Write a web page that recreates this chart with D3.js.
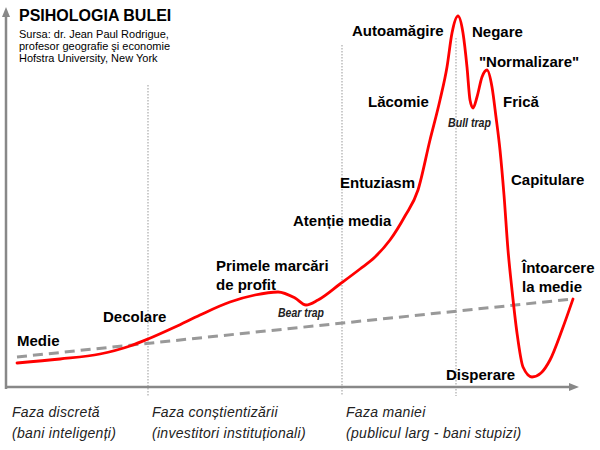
<!DOCTYPE html>
<html>
<head>
<meta charset="utf-8">
<script src="https://cdn.jsdelivr.net/npm/d3@7"></script>
<style>
html,body{margin:0;padding:0;background:#fff;}
svg{display:block;}
</style>
</head>
<body>
<svg id="chart" width="600" height="450"></svg>
<script>
// ---- data (time units, sentiment/price units) ----
const curveTime  = [12, 55, 95, 125, 143, 170, 195, 225, 250, 273, 290, 301, 313, 335, 355, 370, 385, 400, 413, 425, 435, 442, 447, 453, 458, 462, 465, 468, 472, 477, 482, 487, 491, 495, 499, 503, 507, 512, 518, 527, 536, 545, 557, 568];
const curveValue = [24, 28, 33, 41, 48, 60, 72, 85, 92, 95, 89, 82, 87, 103, 118, 130, 147, 171, 197, 247, 287, 320, 354, 371, 354, 320, 287, 279, 290, 310, 317, 300, 270, 237, 192, 137, 97, 54, 20, 10, 14, 27, 57, 88];
const trendTime  = [12, 568];
const trendValue = [30, 88];
const phaseDividers = [143, 337, 451];
const phaseNames = ["Faza discretă", "Faza conștientizării", "Faza maniei"];
const phaseActors = ["(bani inteligenți)", "(investitori instituționali)", "(publicul larg - bani stupizi)"];
const stageLabels = [
  {t:12,  v:41,  lines:["Medie"]},
  {t:98,  v:65,  lines:["Decolare"]},
  {t:211, v:116, lines:["Primele marcări","de profit"]},
  {t:288, v:161, lines:["Atenție media"]},
  {t:335, v:199, lines:["Entuziasm"]},
  {t:363, v:280, lines:["Lăcomie"]},
  {t:347, v:351, lines:["Autoamăgire"]},
  {t:467, v:350, lines:["Negare"]},
  {t:474, v:320, lines:["\"Normalizare\""]},
  {t:498, v:280, lines:["Frică"]},
  {t:506, v:202, lines:["Capitulare"]},
  {t:517, v:114, lines:["Întoarcere","la medie"]},
  {t:441, v:7,   lines:["Disperare"]}
];
const trapLabels = [
  {t:273, v:70,  text:"Bear trap"},
  {t:443, v:260, text:"Bull trap"}
];
const title = "PSIHOLOGIA BULEI";
const subtitle = ["Sursa: dr. Jean Paul Rodrigue,", "profesor geografie şi economie", "Hofstra University, New York"];

// ---- drawing ----
const svg = d3.select("#chart");
const x = d3.scaleLinear().domain([0, 580]).range([5, 585]);
const y = d3.scaleLinear().domain([0, 370]).range([387, 17]);

// arrow marker
const defs = svg.append("defs");
defs.append("marker").attr("id","arr").attr("viewBox","0 0 10 10")
  .attr("refX",5).attr("refY",5).attr("markerWidth",4).attr("markerHeight",4)
  .attr("orient","auto-start-reverse")
  .append("path").attr("d","M0,1 L10,5 L0,9 Z").attr("fill","#888");

// phase dividers (dotted)
const dividerTop = [85, 45, 38];
svg.selectAll("line.div").data(phaseDividers).join("line")
  .attr("class","div")
  .attr("x1", d => x(d)).attr("x2", d => x(d))
  .attr("y1", (d,i) => dividerTop[i]).attr("y2", 396)
  .attr("stroke","#aaa").attr("stroke-width",1.2).attr("stroke-dasharray","1.5,1.5");

// axes
svg.append("line").attr("x1", x(0)+1).attr("x2", x(0)+1).attr("y1", y(-2)).attr("y2", 12)
  .attr("stroke","#888").attr("stroke-width",2.5).attr("marker-end","url(#arr)");
svg.append("line").attr("x1", x(0)).attr("x2", 574).attr("y1", y(0)).attr("y2", y(0))
  .attr("stroke","#888").attr("stroke-width",2.5).attr("marker-end","url(#arr)");

// trend (dashed)
const trend = trendTime.map((t,i)=>[t, trendValue[i]]);
svg.append("path").datum(trend)
  .attr("d", d3.line().x(d=>x(d[0])).y(d=>y(d[1])))
  .attr("fill","none").attr("stroke","#999").attr("stroke-width",3).attr("stroke-dasharray","10,6");

// bubble curve
const pts = curveTime.map((t,i)=>[t, curveValue[i]]);
svg.append("path").datum(pts)
  .attr("d", d3.line().x(d=>x(d[0])).y(d=>y(d[1])).curve(d3.curveMonotoneX))
  .attr("fill","none").attr("stroke","#ff0000").attr("stroke-width",2.8)
  .attr("stroke-linejoin","round").attr("stroke-linecap","round");

// stage labels
const font = "'Liberation Sans', Arial, sans-serif";
stageLabels.forEach(l => {
  const tx = svg.append("text").attr("x", x(l.t)).attr("y", y(l.v))
    .attr("font-family", font).attr("font-weight","bold").attr("font-size",15).attr("fill","#000");
  l.lines.forEach((s,i) => tx.append("tspan").attr("x", x(l.t)).attr("dy", i===0?0:19).text(s));
});

// trap labels
trapLabels.forEach(l => {
  svg.append("text").attr("x", x(l.t)).attr("y", y(l.v))
    .attr("font-family", font).attr("font-weight","bold").attr("font-style","italic")
    .attr("font-size",12).attr("fill","#222")
    .attr("textLength", l.text==="Bear trap"?46:43).attr("lengthAdjust","spacingAndGlyphs")
    .text(l.text);
});

// title
svg.append("text").attr("x",19).attr("y",21).attr("font-family",font).attr("font-weight","bold")
  .attr("font-size",16).attr("fill","#000").text(title);
subtitle.forEach((s,i)=>{
  svg.append("text").attr("x",19).attr("y",38+i*12).attr("font-family",font)
    .attr("font-size",11).attr("fill","#000").text(s);
});

// phase labels
phaseNames.forEach((s,i)=>{
  const px = i===0 ? 12 : x(phaseDividers[i-1]) + 4;
  svg.append("text").attr("x",px).attr("y",417).attr("font-family",font).attr("font-style","italic")
    .attr("font-size",14).attr("letter-spacing",0.3).attr("fill","#222").text(s);
  svg.append("text").attr("x",px).attr("y",438).attr("font-family",font).attr("font-style","italic")
    .attr("font-size",14).attr("letter-spacing",0.3).attr("fill","#222").text(phaseActors[i]);
});
</script>
</body>
</html>
